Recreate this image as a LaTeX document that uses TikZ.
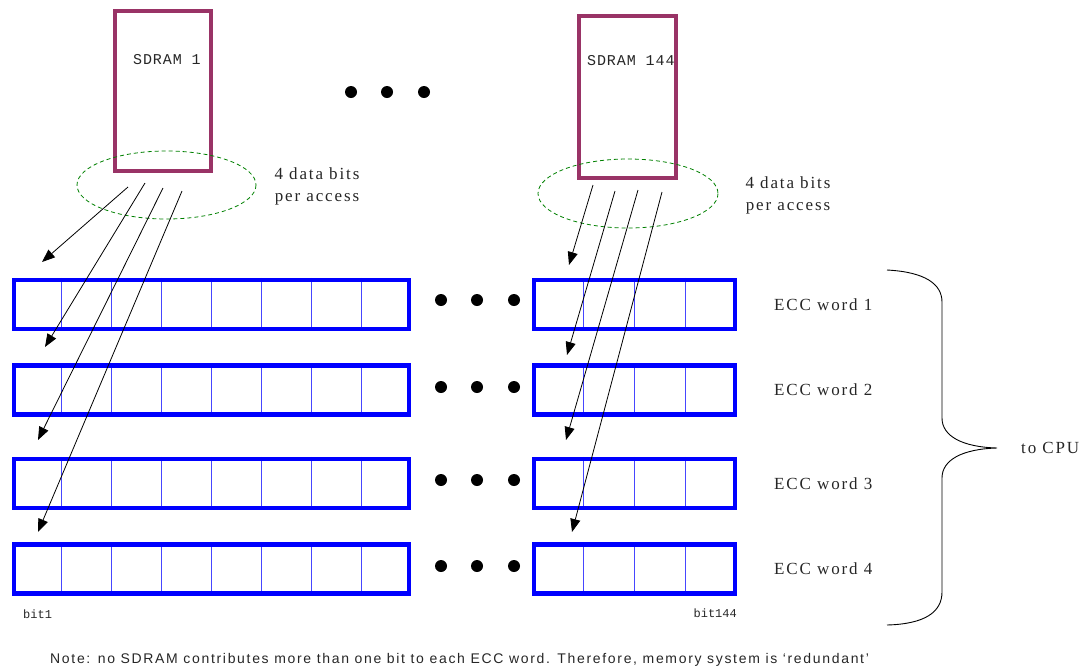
\documentclass[tikz,border=0pt]{standalone}
\usepackage{fontspec}
\setmainfont{Liberation Serif}
\newfontfamily\lblfont{Liberation Serif}[LetterSpace=11]
\newfontfamily\chipfont{Liberation Mono}[LetterSpace=6]
\newfontfamily\bitfont{Liberation Mono}
\newfontfamily\notefont{Liberation Sans}[LetterSpace=12]
\usetikzlibrary{arrows.meta,calc}
\definecolor{chip}{RGB}{153,51,102}
\definecolor{ring}{RGB}{0,128,0}
\definecolor{word}{RGB}{0,0,255}
\definecolor{cell}{RGB}{70,70,255}
\begin{document}
\begin{tikzpicture}[x=1pt,y=-1pt,
  chipbox/.style={draw=chip,line width=4pt,inner sep=0pt},
  chiplabel/.style={font=\chipfont\fontsize{15}{15}\selectfont,inner sep=0pt,text=black!85},
  ringstyle/.style={draw=ring,line width=0.8pt,dash pattern=on 4pt off 3pt},
  wordbox/.style={draw=word,line width=4.5pt,inner sep=0pt,minimum height=49pt},
  cellline/.style={draw=cell,line width=1pt},
  bitline/.style={-{Triangle[length=13pt,width=10pt]},line width=0.8pt},
  ellip/.style={circle,fill=black,inner sep=0pt,minimum size=12pt},
  lbl/.style={font=\lblfont\fontsize{17}{22}\selectfont,inner sep=0pt,text=black!85},
  bitlbl/.style={font=\bitfont\fontsize{12}{12}\selectfont,inner sep=0pt,text=black!85}
]
\useasboundingbox (0,0) rectangle (1085,670);

% memory chips
\node[chipbox,minimum width=96pt,minimum height=160pt] (chipA) at (163,91) {};
\node[chiplabel,anchor=west] (chipAlbl) at (133,60) {SDRAM 1};
\node[chipbox,minimum width=97pt,minimum height=162pt] (chipB) at (627.5,97) {};
\node[chiplabel,anchor=west] (chipBlbl) at (587,61) {SDRAM 144};

% dashed rings marking the bits read per access
\draw[ringstyle] (166.5,185) ellipse [x radius=89.5, y radius=34];
\draw[ringstyle] (628,193.5) ellipse [x radius=90, y radius=34.5];
\node[lbl,align=center] (accA) at (317,186) {4 data bits\\per access};
\node[lbl,align=center] (accB) at (788,195) {4 data bits\\per access};

% ellipsis between chips
\node[ellip] (topd1) at (351,92) {};
\node[ellip] (topd2) at (387,92) {};
\node[ellip] (topd3) at (424,92) {};

% ECC words: left block of 8 bits, right block of 4 bits
\foreach \i/\y/\dy in {1/304.5/300,2/390/387,3/483.5/480,4/569/566}{
  \node[wordbox,minimum width=395pt] (wl\i) at (211.5,\y) {};
  \node[wordbox,minimum width=201pt] (wr\i) at (634.5,\y) {};
  \foreach \k in {1,...,7}
    \draw[cellline] ($(wl\i.north west)!\k/8!(wl\i.north east)$) -- ($(wl\i.south west)!\k/8!(wl\i.south east)$);
  \foreach \k in {1,2,3}
    \draw[cellline] ($(wr\i.north west)!\k/4!(wr\i.north east)$) -- ($(wr\i.south west)!\k/4!(wr\i.south east)$);
  \node[wordbox,minimum width=395pt] at (wl\i) {};
  \node[wordbox,minimum width=201pt] at (wr\i) {};
  \node[ellip] (md\i a) at (441,\dy) {};
  \node[ellip] (md\i b) at (477,\dy) {};
  \node[ellip] (md\i c) at (514,\dy) {};
  \node[lbl,anchor=west] (ecc\i) at (774,\y) {ECC word \i};
}

\node[bitlbl,anchor=west] (bitA) at (23,614) {bit1};
\node[bitlbl,anchor=east] (bitB) at (737,613) {bit144};

% bit paths from each chip into successive words
\coordinate (sa1) at (128,187); \coordinate (ta1) at (42,262);
\coordinate (sa2) at (145,183); \coordinate (ta2) at (45,347);
\coordinate (sa3) at (163,188); \coordinate (ta3) at (38,440);
\coordinate (sa4) at (182,191); \coordinate (ta4) at (38,532);
\coordinate (sb1) at (593,185); \coordinate (tb1) at (569,265);
\coordinate (sb2) at (615,191); \coordinate (tb2) at (567,355);
\coordinate (sb3) at (638,190); \coordinate (tb3) at (566,440);
\coordinate (sb4) at (662,192); \coordinate (tb4) at (572,532);
\foreach \j in {1,...,4}{
  \draw[bitline] (sa\j) -- (ta\j);
  \draw[bitline] (sb\j) -- (tb\j);
}

% brace gathering the four words
\coordinate (brtop) at (887,270);
\coordinate (brtip) at (997,448);
\coordinate (brbot) at (887,625);
\draw[line width=0.9pt] (brtop) .. controls (925,272) and (942,284) .. (942,302)
  -- (942,418) .. controls (942,436) and (962,447) .. (brtip)
  .. controls (962,449) and (942,460) .. (942,478)
  -- (942,592) .. controls (942,612) and (925,624) .. (brbot);
\node[lbl,anchor=west] (cpu) at (1021,448) {to CPU};

\node[font=\notefont\fontsize{14}{14}\selectfont,inner sep=0pt,anchor=west,text=black!85] (note) at (50,660)
  {Note: no SDRAM contributes more than one bit to each ECC word. Therefore, memory system is ‘redundant’};
\end{tikzpicture}
\end{document}
